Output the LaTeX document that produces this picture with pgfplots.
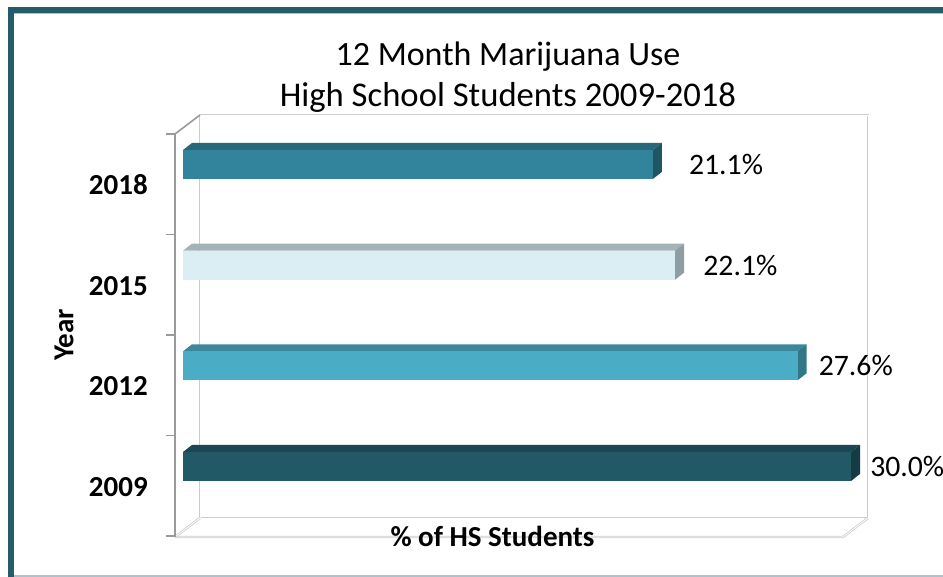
\documentclass[border=0pt]{standalone}
\usepackage{pgfplots}
\pgfplotsset{compat=1.18}
\usepackage{fontspec}
\setmainfont{Carlito}

\definecolor{frameteal}{HTML}{245C6B}
\definecolor{edgeblue}{HTML}{A9C4CE}
\definecolor{axisgray}{HTML}{9A9A9A}
\definecolor{wallgray}{HTML}{CCCCCC}
% front / top / end faces of the bars
\definecolor{f2018}{HTML}{31849B}\definecolor{t2018}{HTML}{27687A}\definecolor{e2018}{HTML}{1F5564}
\definecolor{f2015}{HTML}{DAEEF3}\definecolor{t2015}{HTML}{A4B3B7}\definecolor{e2015}{HTML}{8E9EA3}
\definecolor{f2012}{HTML}{4BACC6}\definecolor{t2012}{HTML}{3B889C}\definecolor{e2012}{HTML}{327688}
\definecolor{f2009}{HTML}{215967}\definecolor{t2009}{HTML}{1A4753}\definecolor{e2009}{HTML}{153B45}

\begin{document}
\begin{tikzpicture}
% pixel frame: (183,466.5) px is data point (0,0)
\begin{scope}[shift={(-137.25pt,349.875pt)}, x=0.75pt, y=-0.75pt,
  wall/.style={draw=wallgray, line width=0.6pt, double=white, double distance=0.6pt}]
  \fill[frameteal] (8,7) rectangle (943,13);
  \fill[frameteal] (8,7) rectangle (14,577);
  \draw[edgeblue, line width=0.6pt] (14,13.6) -- (943,13.6);
  \draw[edgeblue, line width=1pt] (14,576) -- (943,576);
  % back wall and floor
  \draw[wall] (200,518) -- (200,115) -- (868,115) -- (868,518) -- cycle;
  \draw[wall] (175,537) -- (843,537) -- (868,518);
  \draw[wall] (175,537) -- (200,518);
  % front category axis
  \draw[axisgray, line width=1.2pt] (175,134) -- (200,115);
  \draw[axisgray, line width=2.2pt] (175,134) -- (175,537);
  \foreach \t in {134,234.5,335,435.5,536}
    \draw[axisgray, line width=1.2pt] (166,\t) -- (175,\t);
\end{scope}

\begin{axis}[
  at={(0pt,0pt)}, anchor=origin,
  x=16.70pt, y=75.5pt,
  xmin=-0.36, xmax=30.8, ymin=-0.7, ymax=3.5,
  axis line style={draw=none}, tick style={draw=none},
  xtick=\empty, ytick={0,1,2,3}, yticklabels={2009,2012,2015,2018},
  yticklabel style={font=\bfseries\fontsize{21.75}{26}\selectfont, anchor=east,
    inner sep=0pt, xshift=-20.25pt, yshift=-15.4pt},
  clip=false,
  /pgf/number format/assume math mode=true,
  bar/.style n args={2}{xbar, bar shift=0pt, bar width=21.75pt, fill=#1, draw=none,
    point meta=x,
    nodes near coords={\pgfmathprintnumber[fixed,fixed zerofill,precision=1]{\pgfplotspointmeta}\%},
    every node near coord/.append style={anchor=west, inner sep=0pt, xshift=#2,
      text=black, font=\fontsize{22.3}{26}\selectfont}},
  face/.style={fill=#1, draw=none, forget plot},
]
% 2009
\addplot[face=t2009] coordinates {(0,0.144) (30.0,0.144) (30.404,0.214) (0.404,0.214)} -- cycle;
\addplot[face=e2009] coordinates {(30.0,0.144) (30.404,0.214) (30.404,-0.074) (30.0,-0.144)} -- cycle;
\addplot[bar={f2009}{14.25pt}] coordinates {(30.0,0)};
% 2012
\addplot[face=t2012] coordinates {(0,1.144) (27.6,1.144) (28.004,1.214) (0.404,1.214)} -- cycle;
\addplot[face=e2012] coordinates {(27.6,1.144) (28.004,1.214) (28.004,0.926) (27.6,0.856)} -- cycle;
\addplot[bar={f2012}{15.75pt}] coordinates {(27.6,1)};
% 2015
\addplot[face=t2015] coordinates {(0,2.144) (22.1,2.144) (22.504,2.214) (0.404,2.214)} -- cycle;
\addplot[face=e2015] coordinates {(22.1,2.144) (22.504,2.214) (22.504,1.926) (22.1,1.856)} -- cycle;
\addplot[bar={f2015}{21pt}] coordinates {(22.1,2)};
% 2018
\addplot[face=t2018] coordinates {(0,3.144) (21.1,3.144) (21.504,3.214) (0.404,3.214)} -- cycle;
\addplot[face=e2018] coordinates {(21.1,3.144) (21.504,3.214) (21.504,2.926) (21.1,2.856)} -- cycle;
\addplot[bar={f2018}{27pt}] coordinates {(21.1,3)};
\end{axis}

\begin{scope}[shift={(-137.25pt,349.875pt)}, x=0.75pt, y=-0.75pt]
  \node[anchor=base, font=\fontsize{25.5}{30}\selectfont] at (508,66) {12 Month Marijuana Use};
  \node[anchor=base, font=\fontsize{26}{30}\selectfont] at (508,107) {High School Students 2009-2018};
  \node[rotate=90, inner sep=0pt, font=\bfseries\fontsize{21.75}{26}\selectfont] at (64,335) {Year};
  \node[anchor=base, inner sep=0pt, font=\bfseries\fontsize{21.75}{26}\selectfont] at (492.5,547) {\% of HS Students};
  \pgfresetboundingbox
  \path (0,0) rectangle (943,577);
\end{scope}
\end{tikzpicture}
\end{document}
